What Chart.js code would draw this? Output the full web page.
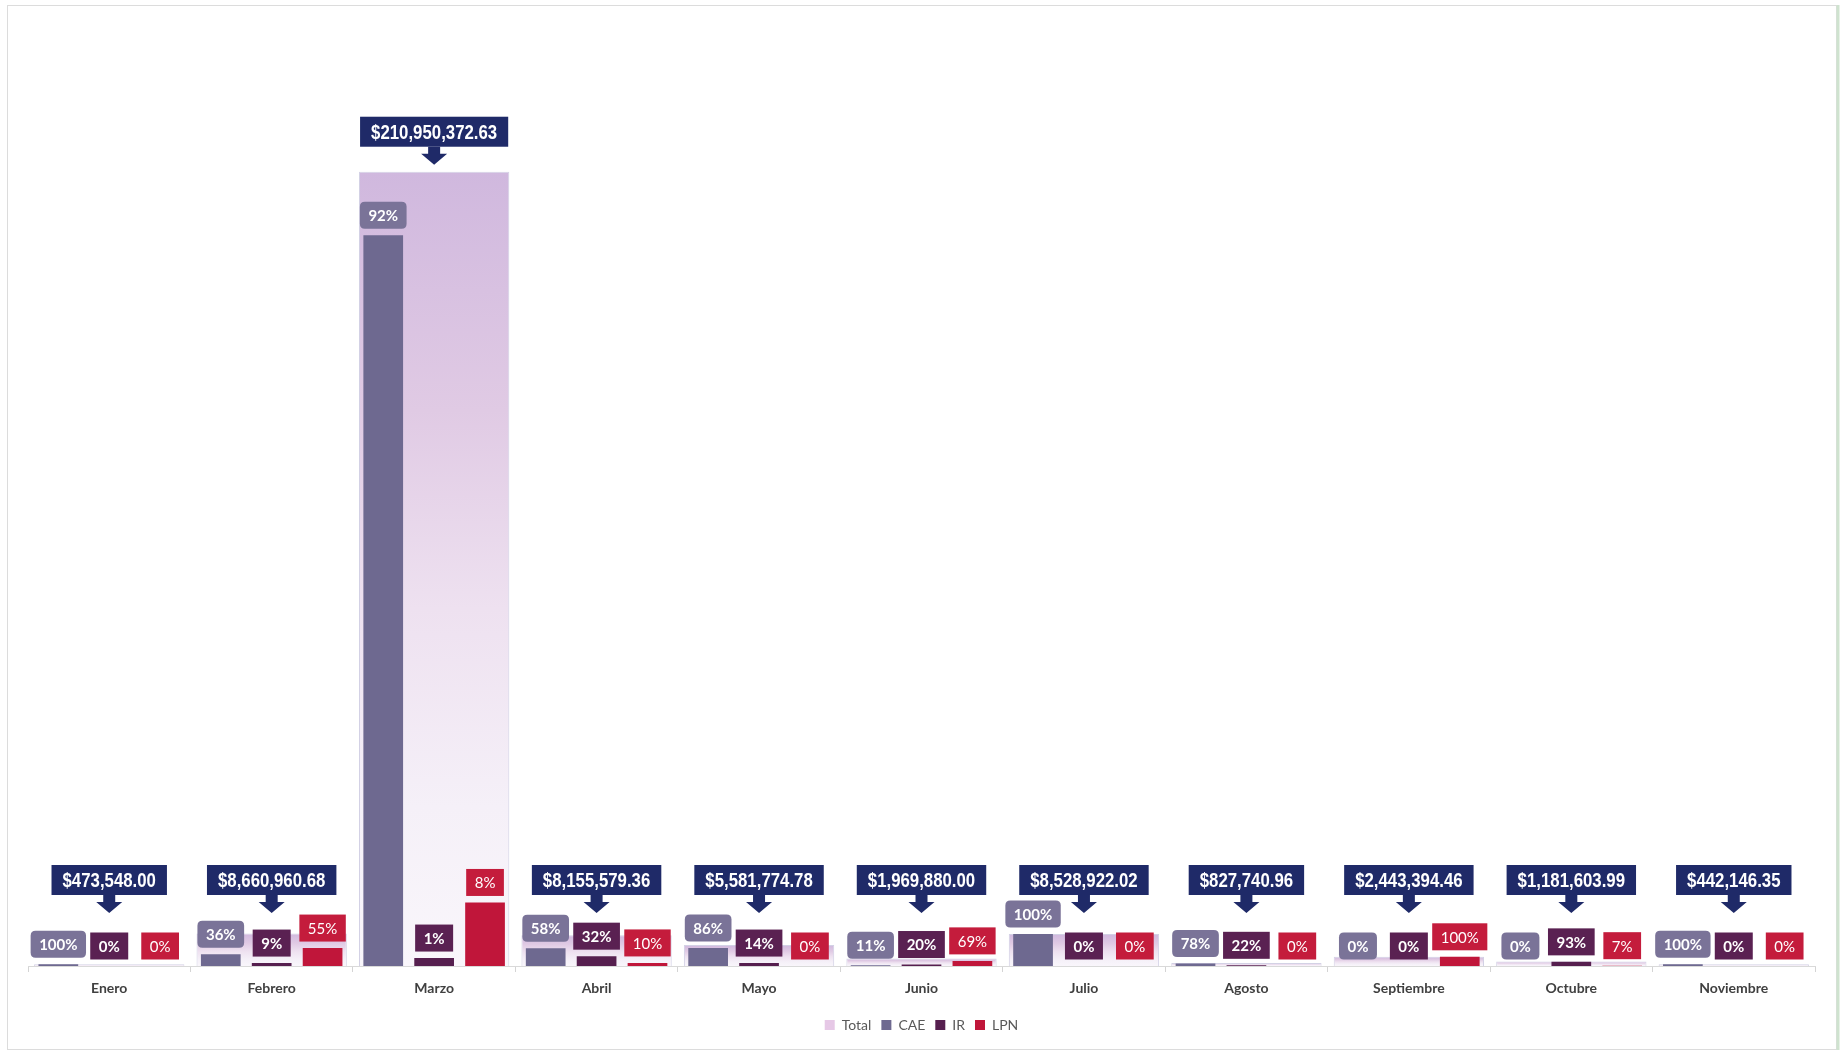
<!DOCTYPE html>
<html lang="es">
<head>
<meta charset="UTF-8">
<title>Montos por mes</title>
<script src="https://cdn.jsdelivr.net/npm/chart.js"></script>
<style>
  html, body { margin: 0; padding: 0; background: #fff; }
  canvas { display: block; }
</style>
</head>
<body>
<canvas id="chart" width="1843" height="1053"></canvas>
<script>
// data
const meses = ['Enero', 'Febrero', 'Marzo', 'Abril', 'Mayo', 'Junio', 'Julio', 'Agosto', 'Septiembre', 'Octubre', 'Noviembre'];
const totales = [473548.00, 8660960.68, 210950372.63, 8155579.36, 5581774.78, 1969880.00, 8528922.02, 827740.96, 2443394.46, 1181603.99, 442146.35];
// share of each month's total, in percent (as printed on the labels)
const pctCAE = [100, 36, 92, 58, 86, 11, 100, 78, 0, 0, 100];
const pctIR  = [0, 9, 1, 32, 14, 20, 0, 22, 0, 93, 0];
const pctLPN = [0, 55, 8, 10, 0, 69, 0, 0, 100, 7, 0];

const montoCAE = totales.map((t, i) => t * pctCAE[i] / 100);
const montoIR  = totales.map((t, i) => t * pctIR[i] / 100);
const montoLPN = totales.map((t, i) => t * pctLPN[i] / 100);

const colCAE = '#6e6990';
const colIR = '#561f4f';
const colLPN = '#c0163a';
const colNavy = '#1f2a68';

function totalGradient(ctx) {
  const chart = ctx.chart;
  if (!chart.chartArea || ctx.raw === undefined) return '#e4cce4';
  const y = chart.scales.y;
  const top = y.getPixelForValue(ctx.raw);
  const base = y.getPixelForValue(0);
  const g = chart.ctx.createLinearGradient(0, top, 0, base);
  g.addColorStop(0, 'rgb(208,184,222)');
  g.addColorStop(0.3, 'rgb(224,202,228)');
  g.addColorStop(0.55, 'rgb(238,225,240)');
  g.addColorStop(0.8, 'rgb(245,240,248)');
  g.addColorStop(1, 'rgb(249,246,251)');
  return g;
}

function fmtMoney(v) {
  return '$' + v.toLocaleString('en-US', { minimumFractionDigits: 2, maximumFractionDigits: 2 });
}

function roundRect(c, x, y, w, h, r) {
  c.beginPath();
  c.moveTo(x + r, y);
  c.lineTo(x + w - r, y);
  c.quadraticCurveTo(x + w, y, x + w, y + r);
  c.lineTo(x + w, y + h - r);
  c.quadraticCurveTo(x + w, y + h, x + w - r, y + h);
  c.lineTo(x + r, y + h);
  c.quadraticCurveTo(x, y + h, x, y + h - r);
  c.lineTo(x, y + r);
  c.quadraticCurveTo(x, y, x + r, y);
  c.closePath();
}

// page frame
const framePlugin = {
  id: 'frame',
  beforeDraw(chart) {
    const c = chart.ctx;
    c.save();
    c.fillStyle = '#fff';
    c.fillRect(0, 0, chart.width, chart.height);
    c.strokeStyle = '#dcdcdc';
    c.lineWidth = 1;
    c.strokeRect(7.5, 5.5, 1829, 1044);
    c.strokeStyle = '#cfe3cf';
    c.lineWidth = 3;
    c.beginPath();
    c.moveTo(1838, 5);
    c.lineTo(1838, 1050);
    c.stroke();
    c.restore();
  }
};

// value / percent labels
const labelPlugin = {
  id: 'labels',
  afterDatasetsDraw(chart) {
    const c = chart.ctx;
    const base = chart.scales.y.getPixelForValue(0);
    const pcts = [null, pctCAE, pctIR, pctLPN];
    const boxCol = [null, '#7a7398', '#5a2152', '#c41c3c'];
    c.save();
    c.textAlign = 'center';
    c.textBaseline = 'middle';

    for (let d = 1; d <= 3; d++) {
      const meta = chart.getDatasetMeta(d);
      meta.data.forEach((bar, i) => {
        const txt = pcts[d][i] + '%';
        c.font = (d === 3 ? '400 15px Lato' : '700 15px Lato');
        const w = c.measureText(txt).width + 17;
        const h = 27;
        const cy = bar.y - 20;
        c.fillStyle = boxCol[d];
        if (d === 1) {
          roundRect(c, bar.x - w / 2, cy - h / 2, w, h, 5);
          c.fill();
        } else {
          c.fillRect(bar.x - w / 2, cy - h / 2, w, h);
        }
        c.fillStyle = '#fff';
        c.fillText(txt, bar.x, cy + 1);
      });
    }

    // total callouts
    const meta0 = chart.getDatasetMeta(0);
    meta0.data.forEach((bar, i) => {
      const txt = fmtMoney(totales[i]);
      const cy = Math.min(bar.y - 40, base - 86);
      c.font = '700 21px "Liberation Sans", Arial, sans-serif';
      const sx = 0.8;
      const tw = c.measureText(txt).width * sx;
      const w = tw + 22;
      const h = 30;
      c.fillStyle = colNavy;
      c.fillRect(bar.x - w / 2, cy - h / 2, w, h);
      // arrow
      const ay = cy + h / 2;
      c.beginPath();
      c.moveTo(bar.x - 6, ay);
      c.lineTo(bar.x + 6, ay);
      c.lineTo(bar.x + 6, ay + 7);
      c.lineTo(bar.x + 13, ay + 7);
      c.lineTo(bar.x, ay + 18);
      c.lineTo(bar.x - 13, ay + 7);
      c.lineTo(bar.x - 6, ay + 7);
      c.closePath();
      c.fill();
      c.save();
      c.translate(bar.x, cy + 1);
      c.scale(sx, 1);
      c.fillStyle = '#fff';
      c.fillText(txt, 0, 0);
      c.restore();
    });
    c.restore();
  }
};

new Chart(document.getElementById('chart'), {
  type: 'bar',
  data: {
    labels: meses,
    datasets: [
      {
        label: 'Total',
        data: totales,
        grouped: false,
        order: 10,
        backgroundColor: totalGradient,
        borderColor: 'rgba(200,198,222,0.8)',
        borderWidth: 1,
        borderSkipped: 'bottom',
        categoryPercentage: 1,
        barPercentage: 0.925
      },
      { label: 'CAE', data: montoCAE, backgroundColor: colCAE, order: 1, categoryPercentage: 0.94, barPercentage: 0.78 },
      { label: 'IR', data: montoIR, backgroundColor: colIR, order: 1, categoryPercentage: 0.94, barPercentage: 0.78 },
      { label: 'LPN', data: montoLPN, backgroundColor: colLPN, order: 1, categoryPercentage: 0.94, barPercentage: 0.78 }
    ]
  },
  options: {
    responsive: false,
    animation: false,
    devicePixelRatio: 1,
    layout: { padding: { top: 100, left: 28, right: 28, bottom: 11 } },
    plugins: {
      tooltip: { enabled: false },
      legend: {
        position: 'bottom',
        labels: {
          boxWidth: 10,
          boxHeight: 10,
          padding: 10,
          color: '#595959',
          font: { family: 'Lato', size: 14 },
          sort: (a, b) => a.datasetIndex - b.datasetIndex,
          generateLabels: function (chart) {
            const cols = ['#e6c8e6', colCAE, colIR, colLPN];
            return chart.data.datasets.map((ds, i) => ({
              text: ds.label,
              fillStyle: cols[i],
              strokeStyle: cols[i],
              lineWidth: 0,
              datasetIndex: i,
              hidden: false,
              fontColor: '#595959'
            }));
          }
        }
      }
    },
    scales: {
      x: {
        grid: { display: true, drawOnChartArea: false, offset: true, tickLength: 6, color: '#d4d4d4' },
        border: { color: '#d9d9d9' },
        ticks: { color: '#404040', padding: 8, font: { family: 'Lato', size: 14, weight: '700' } },
        afterFit: scale => { scale.height = 42; }
      },
      y: { display: false, min: 0, max: 230000000 }
    }
  },
  plugins: [framePlugin, labelPlugin]
});
</script>
</body>
</html>
